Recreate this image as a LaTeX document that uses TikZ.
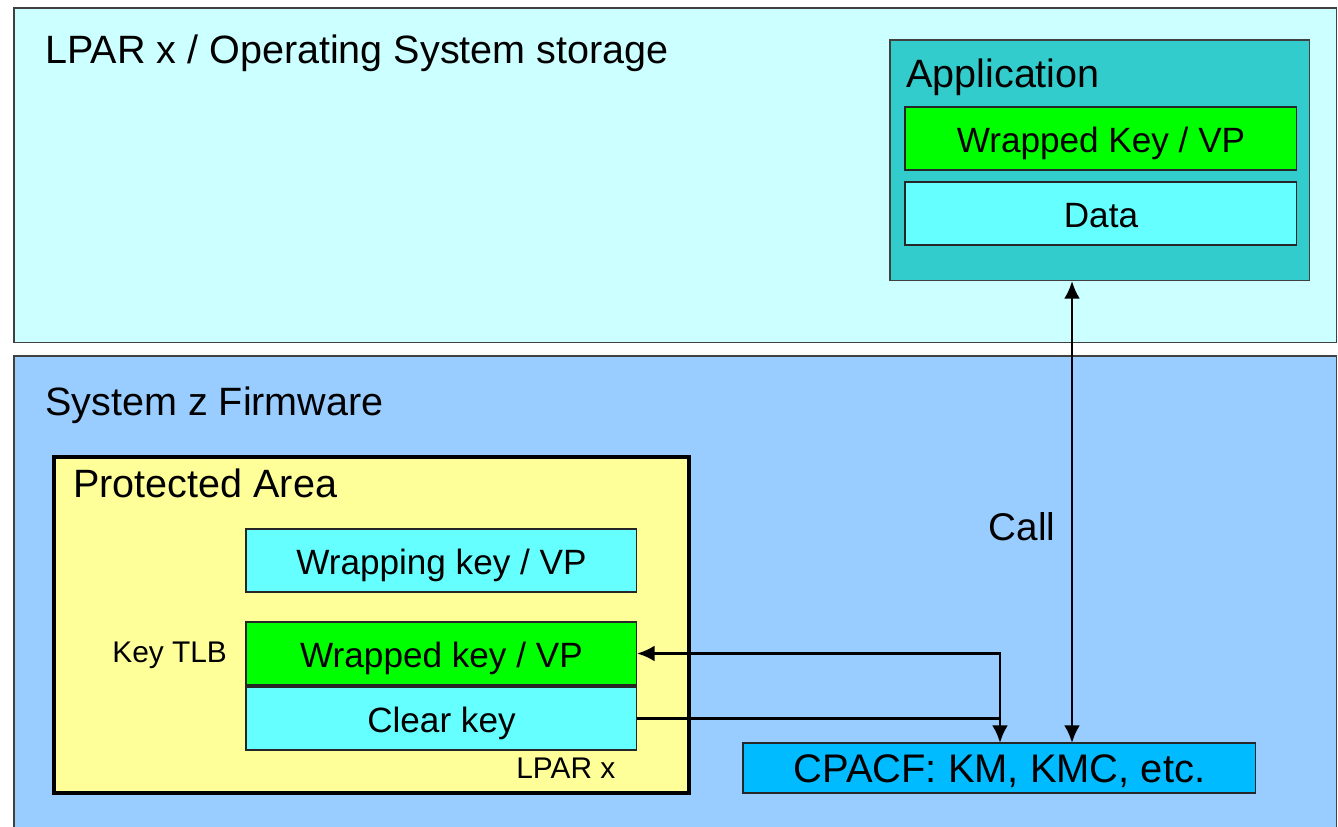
\documentclass[tikz,border=0pt]{standalone}
\usepackage{fontspec}
\setmainfont{Liberation Sans}
\usetikzlibrary{arrows.meta}
\definecolor{osbg}{HTML}{CCFFFF}
\definecolor{fwbg}{HTML}{99CCFF}
\definecolor{appbg}{HTML}{33CCCC}
\definecolor{keygreen}{HTML}{00FF00}
\definecolor{datacyan}{HTML}{66FFFF}
\definecolor{protyellow}{HTML}{FFFF99}
\definecolor{cpacfblue}{HTML}{00BBFF}
\begin{document}
\begin{tikzpicture}[
        x=0.02cm, y=-0.02cm,
        area/.style={draw=black!75, line width=0.6pt, anchor=north west, inner sep=0pt, outer sep=0pt},
        box/.style={draw=black!85, line width=0.6pt, anchor=north west, minimum width=7.84cm, minimum height=1.26cm, inner sep=0pt, outer sep=0pt, text height=17pt, text depth=1pt, font=\fontsize{20}{24}\selectfont},
        title/.style={anchor=base west, inner sep=0pt, font=\fontsize{22.5}{26}\selectfont},
        small/.style={anchor=base west, inner sep=0pt, font=\fontsize{17}{20}\selectfont},
        forward/.style={<->, line width=1.6pt},
        >={Latex[length=10pt,width=9pt]}
    ]
        \useasboundingbox (0,0) rectangle (1338,827);
        \fill[white] (0,0) rectangle (1338,827);
        % operating system side
        \node[area, fill=osbg, minimum width=26.46cm, minimum height=6.7cm] (os) at (14,8) {};
        \node[title] (ostitle) at (45,64) {LPAR x / Operating System storage};
        \node[area, fill=appbg, minimum width=8.4cm, minimum height=4.82cm] (app) at (890,40) {};
        \node[title] (apptitle) at (906,88) {Application};
        \node[box, fill=keygreen] (appkey) at (905,107) {Wrapped Key / VP};
        \node[box, fill=datacyan] (data) at (905,182) {Data};
        % firmware side
        \node[area, fill=fwbg, minimum width=26.46cm, minimum height=9.5cm] (fw) at (14,356) {};
        \node[title] (fwtitle) at (45,415) {System z Firmware};
        \node[area, draw=black, line width=2.2pt, fill=protyellow, minimum width=12.7cm, minimum height=6.72cm] (prot) at (54,457) {};
        \node[title] (prottitle) at (73,497) {Protected Area};
        \node[box, fill=datacyan, minimum width=7.82cm] (wrapping) at (246,529) {Wrapping key / VP};
        \node[box, fill=keygreen, minimum width=7.82cm] (wrapped) at (246,622) {Wrapped key / VP};
        \node[box, fill=datacyan, minimum width=7.82cm] (clear) at (246,687) {Clear key};
        \node[small] (tlb) at (112,662) {Key TLB};
        \node[small] (lpar) at (516,778) {LPAR x};
        \node[box, fill=cpacfblue, minimum width=10.26cm, minimum height=1cm, text height=18pt, font=\fontsize{22.7}{26}\selectfont] (cpacf) at (743,743) {CPACF: KM, KMC, etc.};
        % connectors
        \coordinate (callx) at (1072,0);
        \coordinate (kmx) at (1000,0);
        \draw[forward] (app.south -| callx) -- (cpacf.north -| callx);
        \node[font=\fontsize{22}{26}\selectfont] (call) at (1022,527) {Call};
        \draw[forward] (wrapped.east) -| (cpacf.north -| kmx);
        \draw[line width=1.6pt] (clear.east) -- (clear.east -| kmx);
\end{tikzpicture}
\end{document}
